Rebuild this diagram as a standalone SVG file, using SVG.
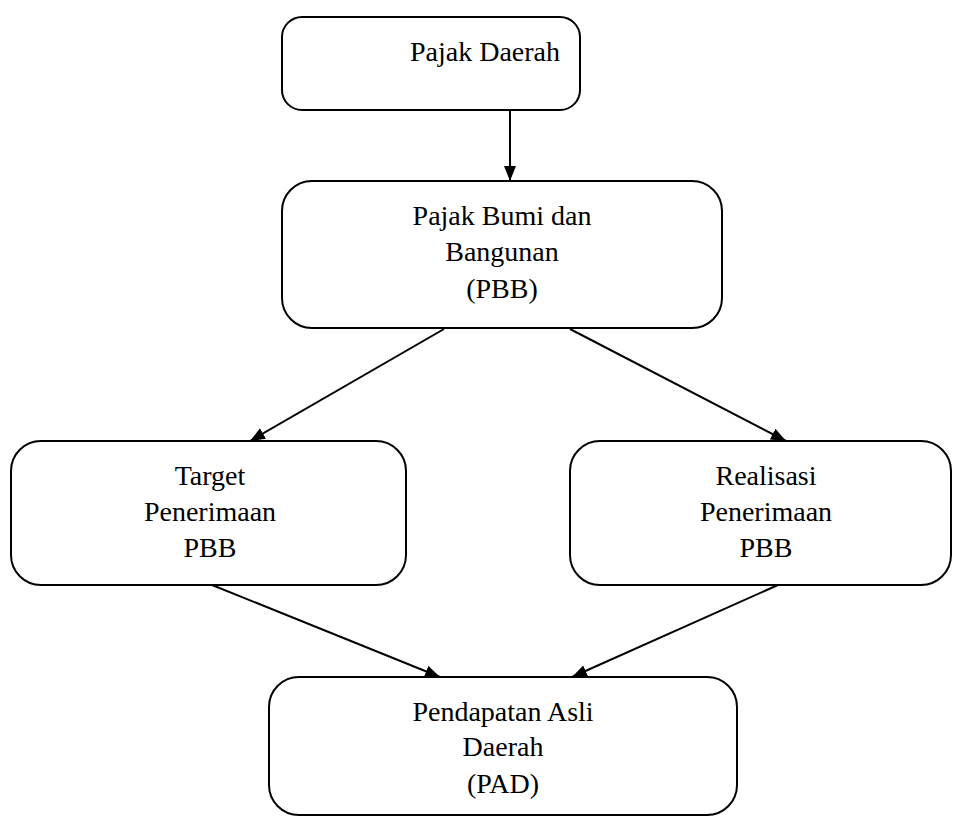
<svg xmlns="http://www.w3.org/2000/svg" width="953" height="818" viewBox="0 0 953 818">
<style>
.box{fill:#fff;stroke:#000;stroke-width:2}
.t{font-family:'Liberation Serif',serif;font-size:28px;fill:#000;text-anchor:middle}
.c{stroke:#000;stroke-width:2;fill:none;marker-end:url(#ah)}
</style>
<defs>
<marker id="ah" markerUnits="userSpaceOnUse" markerWidth="16" markerHeight="14" refX="15" refY="6" orient="auto">
<path d="M0,0 L15,6 L0,12 Z" fill="#000"/>
</marker>
</defs>
<rect width="953" height="818" fill="#fff"/>
<g id="connectors">
<line class="c" x1="510" y1="111" x2="510" y2="181"/>
<line class="c" x1="444" y1="329" x2="250" y2="441"/>
<line class="c" x1="570" y1="329" x2="786" y2="441"/>
<line class="c" x1="212" y1="585" x2="440" y2="677"/>
<line class="c" x1="778" y1="585" x2="572" y2="677"/>
</g>
<g id="pajak-daerah">
<rect class="box" x="282" y="17" width="298" height="93" rx="20"/>
<text class="t" font-family="Liberation Serif, serif" x="485" y="61">Pajak Daerah</text>
</g>
<g id="pbb">
<rect class="box" x="282" y="181" width="440" height="147" rx="30"/>
<text class="t" font-family="Liberation Serif, serif" x="502" y="225">Pajak Bumi dan</text>
<text class="t" font-family="Liberation Serif, serif" x="502" y="261">Bangunan</text>
<text class="t" font-family="Liberation Serif, serif" x="502" y="298">(PBB)</text>
</g>
<g id="target">
<rect class="box" x="11" y="441" width="395" height="144" rx="30"/>
<text class="t" font-family="Liberation Serif, serif" x="210" y="485">Target</text>
<text class="t" font-family="Liberation Serif, serif" x="210" y="521">Penerimaan</text>
<text class="t" font-family="Liberation Serif, serif" x="210" y="557">PBB</text>
</g>
<g id="realisasi">
<rect class="box" x="570" y="441" width="381" height="144" rx="30"/>
<text class="t" font-family="Liberation Serif, serif" x="766" y="485">Realisasi</text>
<text class="t" font-family="Liberation Serif, serif" x="766" y="521">Penerimaan</text>
<text class="t" font-family="Liberation Serif, serif" x="766" y="557">PBB</text>
</g>
<g id="pad">
<rect class="box" x="269" y="677" width="468" height="138" rx="30"/>
<text class="t" font-family="Liberation Serif, serif" x="503" y="721">Pendapatan Asli</text>
<text class="t" font-family="Liberation Serif, serif" x="503" y="756">Daerah</text>
<text class="t" font-family="Liberation Serif, serif" x="503" y="793">(PAD)</text>
</g>
</svg>
